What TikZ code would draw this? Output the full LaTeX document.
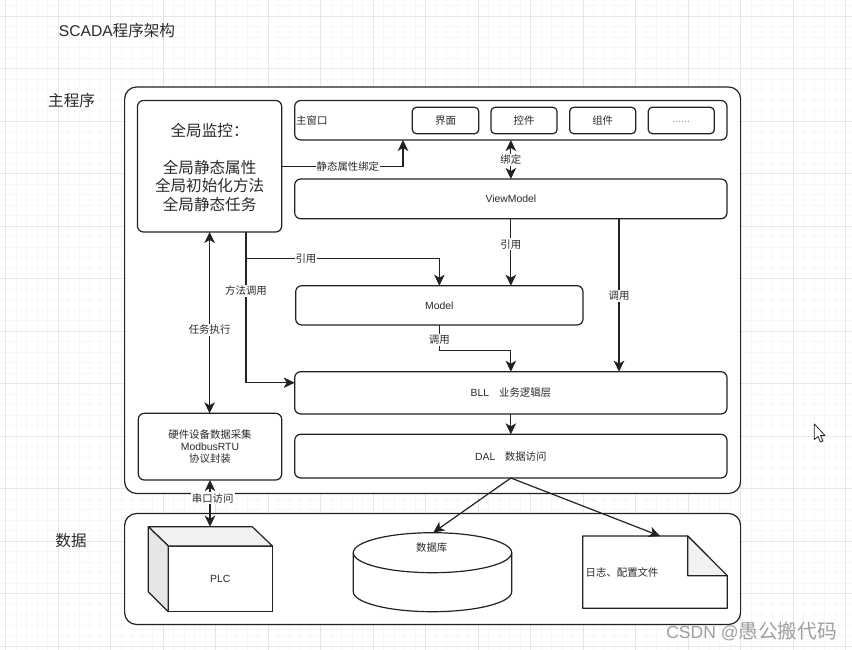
\documentclass[tikz,border=0pt]{standalone}
\usepackage{fontspec}
\setmainfont{Noto Sans CJK SC}
\newfontfamily\latinfont{Liberation Sans}
\usetikzlibrary{arrows.meta}
\definecolor{strokecol}{HTML}{222222}
\definecolor{textcol}{HTML}{2A2A2A}
\definecolor{gridminor}{HTML}{F7F7F7}
\definecolor{gridmajor}{HTML}{E6E6E6}
\definecolor{facecol}{HTML}{F1F1F1}
\begin{document}
\begin{tikzpicture}[
            x=1pt,y=-1pt,
            every node/.style={text=textcol},
            big text/.style={font=\fontsize{15.6}{18.3}\selectfont},
            small text/.style={font=\fontsize{10.4}{12}\selectfont},
            main node/.style={rectangle,draw=strokecol,fill=white,line width=1.2pt,rounded corners=6pt,
                inner sep=0pt,outer sep=0pt,align=center,small text},
            frame node/.style={main node,rounded corners=12pt},
            edge label/.style={fill=white,inner sep=1pt,small text},
            flow/.style={draw=strokecol,line width=1.2pt,-{Stealth[length=11pt,width=10.5pt,inset=3pt]}},
            both flow/.style={flow,{Stealth[length=11pt,width=10.5pt,inset=3pt]}-{Stealth[length=11pt,width=10.5pt,inset=3pt]}}]
            \useasboundingbox (0,0) rectangle (852,650);
            \fill[white] (0,0) rectangle (852,650);
            % Background grid
            \foreach \gx in {0,...,80} \draw[gridminor,line width=.8pt] (5.5+10.5*\gx,0) -- (5.5+10.5*\gx,650);
            \foreach \gy in {0,...,61} \draw[gridminor,line width=.8pt] (0,5.5+10.5*\gy) -- (852,5.5+10.5*\gy);
            \foreach \gx in {0,...,16} \draw[gridmajor,line width=.8pt] (5.5+52.5*\gx,0) -- (5.5+52.5*\gx,650);
            \foreach \gy in {0,...,12} \draw[gridmajor,line width=.8pt] (0,16+52.5*\gy) -- (852,16+52.5*\gy);
            % Titles
            \node[big text] (title) at (117,31) {{\latinfont SCADA}程序架构};
            \node[big text] (lbmain) at (71.6,101) {主程序};
            \node[big text] (lbdata) at (71,541) {数据};
            % Outer frames
            \node[frame node,minimum width=616pt,minimum height=406.5pt] (mainframe) at (432.6,290.25) {};
            \node[frame node,minimum width=616pt,minimum height=111pt] (dataframe) at (432.6,569) {};
            % Boxes
            \node[main node,big text,minimum width=144.2pt,minimum height=131.5pt] (global) at (209.6,166.25)
                {\rule{0pt}{15.7pt}全局监控：\\[18.4pt]全局静态属性\\全局初始化方法\\全局静态任务};
            \node[main node,minimum width=143.4pt,minimum height=66.7pt] (hw) at (210,446.65)
                {硬件设备数据采集\\{\latinfont ModbusRTU}\\协议封装};
            \node[main node,text width=429.3pt,align=left,inner xsep=1.5pt,minimum height=39.5pt] (mainwin) at (510.85,120.25) {主窗口};
            \node[main node,rounded corners=4pt,minimum width=66.4pt,minimum height=26.4pt] (ui) at (445.5,120.5) {界面};
            \node[main node,rounded corners=4pt,minimum width=66pt,minimum height=26.4pt] (ctrl) at (524,120.5) {控件};
            \node[main node,rounded corners=4pt,minimum width=66pt,minimum height=26.4pt] (comp) at (602.7,120.5) {组件};
            \node[main node,rounded corners=4pt,minimum width=66pt,minimum height=26.4pt,text=gray] (more) at (681.3,120.5) {\raisebox{-4pt}{\latinfont ......}};
            \node[main node,minimum width=432.3pt,minimum height=39.7pt] (viewmodel) at (510.85,198.85) {\latinfont ViewModel};
            \node[main node,minimum width=287.3pt,minimum height=39.3pt] (model) at (439.35,305.35) {\latinfont Model};
            \node[main node,minimum width=432.3pt,minimum height=42.3pt] (bll) at (510.85,392.85) {{\latinfont BLL}\hspace{10pt}业务逻辑层};
            \node[main node,minimum width=432.3pt,minimum height=43.7pt] (dal) at (510.85,456.15) {{\latinfont DAL}\hspace{9.5pt}数据访问};
            % PLC cube
            \node[main node,rounded corners=0pt,minimum width=104pt,minimum height=65.7pt] (plc) at (220.3,578.85) {\latinfont PLC};
            \draw[draw=strokecol,fill=facecol,line width=1.2pt,line join=round] (plc.north west) -- ++(-20,-19.3) -- ++(104,0) -- (plc.north east) -- cycle;
            \draw[draw=strokecol,fill=gridmajor,line width=1.2pt,line join=round] (plc.north west) -- ++(-20,-19.3) -- ++(0,65) -- (plc.south west) -- cycle;
            % Database
            \draw[draw=strokecol,fill=white,line width=1.2pt] (353.3,552.7) -- (353.3,591.7) arc[start angle=180,end angle=360,x radius=79.2pt,y radius=20pt] -- (511.7,552.7);
            \draw[draw=strokecol,fill=white,line width=1.2pt] (432.5,552.7) circle[x radius=79.2pt,y radius=20pt];
            \node[small text] (db) at (431.7,547.3) {数据库};
            % Log file
            \draw[draw=strokecol,fill=white,line width=1.2pt,line join=round] (582.7,536) -- (687.7,536) -- (727.3,575.7) -- (727.3,608.3) -- (582.7,608.3) -- cycle;
            \draw[draw=strokecol,fill=facecol,line width=1.2pt,line join=round] (687.7,536) -- (727.3,575.7) -- (687.7,575.7) -- cycle;
            \node[small text,anchor=west,inner sep=0pt] (logfile) at (585.5,572.5) {日志、配置文件};
            % Free ends
            \coordinate (bindIn) at (403,140);
            \coordinate (bindTurn) at (403,166.25);
            \coordinate (busTop) at (246,232);
            \coordinate (refTurn) at (246,258.3);
            \coordinate (callTurn) at (246,382.7);
            \coordinate (bllIn) at (294.7,382.7);
            \coordinate (mdlTurn) at (439.35,350.7);
            \coordinate (vmOut) at (619,218.7);
            \coordinate (plcIn) at (210,526.7);
            \coordinate (dbIn) at (433.3,532.5);
            \coordinate (logIn) at (660,536);
            % Connectors
            \draw[flow] (global.east) -- node[edge label,pos=.546] {静态属性绑定} (bindTurn) -- (bindIn);
            \draw[both flow] (mainwin.south) -- node[edge label,pos=.51] {绑定} (viewmodel.north);
            \draw[flow] (viewmodel.south) -- node[edge label,pos=.38] {引用} (viewmodel.south |- model.north);
            \draw[flow] (vmOut) -- node[edge label,pos=.505] {调用} (vmOut |- bll.north);
            \draw[flow] (busTop) -- (refTurn) -| node[edge label,pos=.155] {引用} (model.north);
            \draw[flow] (busTop) -- node[edge label,pos=.39] {方法调用} (callTurn) -- (bllIn);
            \draw[flow] (model.south) -- node[edge label,pos=.58] {调用} (mdlTurn) -| (bll.north);
            \draw[flow] (bll.south) -- (dal.north);
            \draw[both flow] (global.south) -- node[edge label,pos=.54] {任务执行} (global.south |- hw.north);
            \draw[both flow] (hw.south) -- node[edge label,pos=.39,xshift=2.7pt] {串口访问} (plcIn);
            \draw[flow] (dal.south) -- (dbIn);
            \draw[flow] (dal.south) -- (logIn);
            % Mouse pointer and watermark
            \draw[draw=strokecol,fill=white,line width=.8pt,line join=round] (814.3,424) -- (814.3,439.5) -- (818,436.5) -- (820.5,442) -- (823,441) -- (820.5,435.5) -- (825,435.5) -- cycle;
            \node[text=gray!75,font=\fontsize{19.7}{22}\selectfont] (mark) at (751.7,631.5) {{\latinfont\fontsize{17.5}{22}\selectfont CSDN @}愚公搬代码};
        \end{tikzpicture}
\end{document}
